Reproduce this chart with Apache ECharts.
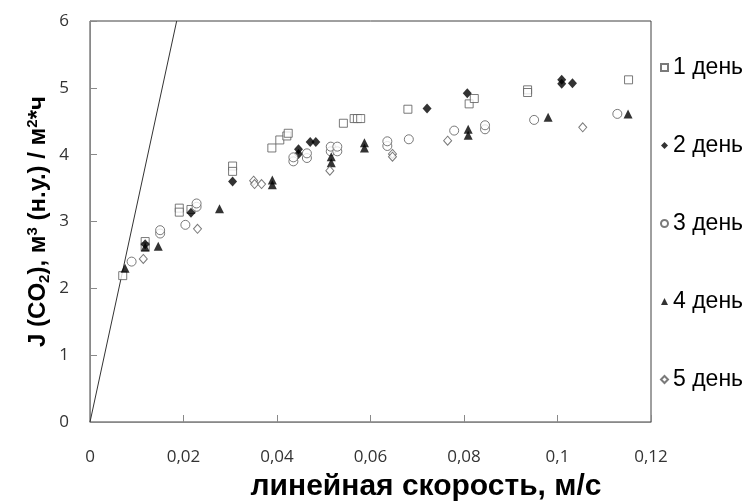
<!DOCTYPE html>
<html>
<head>
<meta charset="utf-8">
<script src="https://cdn.jsdelivr.net/npm/echarts@6/dist/echarts.min.js"></script>
<style>
  html, body { margin: 0; padding: 0; background: #fff; }
  #chart { width: 754px; height: 501px; }
</style>
</head>
<body>
<div id="chart"></div>
<script>
// [скорость, м/с ; J(CO2)]
const day1 = [
  [0.0070, 2.19], [0.0118, 2.70], [0.0118, 2.62], [0.0191, 3.20], [0.0191, 3.14],
  [0.0216, 3.18], [0.0305, 3.83], [0.0305, 3.75], [0.0389, 4.10], [0.0406, 4.22],
  [0.0421, 4.28], [0.0424, 4.32], [0.0542, 4.47], [0.0565, 4.54], [0.0572, 4.54],
  [0.0579, 4.54], [0.0680, 4.68], [0.0811, 4.76], [0.0822, 4.84], [0.0936, 4.97],
  [0.0936, 4.93], [0.1152, 5.12]
];
const day2 = [
  [0.0118, 2.66], [0.0216, 3.13], [0.0305, 3.60], [0.0446, 4.08], [0.0446, 4.01],
  [0.0471, 4.19], [0.0483, 4.19], [0.0721, 4.69], [0.0807, 4.92], [0.1009, 5.12],
  [0.1009, 5.06], [0.1032, 5.07]
];
const day3 = [
  [0.0089, 2.40], [0.0150, 2.82], [0.0150, 2.87], [0.0204, 2.95], [0.0228, 3.22],
  [0.0228, 3.27], [0.0435, 3.90], [0.0435, 3.96], [0.0464, 3.95], [0.0464, 4.02],
  [0.0515, 4.05], [0.0515, 4.12], [0.0529, 4.05], [0.0529, 4.12], [0.0636, 4.13],
  [0.0636, 4.20], [0.0682, 4.23], [0.0779, 4.36], [0.0845, 4.38], [0.0845, 4.44],
  [0.0950, 4.52], [0.1128, 4.61]
];
const day4 = [
  [0.0075, 2.30], [0.0118, 2.62], [0.0146, 2.63], [0.0277, 3.19], [0.0390, 3.62],
  [0.0390, 3.55], [0.0516, 3.97], [0.0516, 3.88], [0.0587, 4.18], [0.0587, 4.10],
  [0.0809, 4.38], [0.0809, 4.29], [0.0980, 4.56], [0.1151, 4.61]
];
const day5 = [
  [0.0114, 2.44], [0.0230, 2.89], [0.0350, 3.61], [0.0352, 3.56], [0.0367, 3.56],
  [0.0513, 3.76], [0.0647, 4.01], [0.0647, 3.97], [0.0765, 4.21], [0.1054, 4.41]
];
// прямая из начала координат
const lineData = [[0, 0], [0.01854, 6]];
const dayNames = ['1 день', '2 день', '3 день', '4 день', '5 день'];

const hollow = { color: '#fff', borderColor: '#595959', borderWidth: 1 };
const filled = { color: '#000' };
const boldFont = { fontFamily: 'Liberation Sans', fontWeight: 'bold', color: '#000' };

const chart = echarts.init(document.getElementById('chart'));

chart.setOption({
  animation: false,
  grid: {
    left: 90, right: 103, top: 21, bottom: 79,
    show: true, borderColor: '#404040', borderWidth: 1
  },
  legend: {
    orient: 'vertical',
    left: 655,
    top: 51,
    itemGap: 55,
    itemWidth: 7,
    itemHeight: 7,
    data: dayNames,
    textStyle: { fontFamily: 'Liberation Sans', fontSize: 23, color: '#000' }
  },
  xAxis: {
    type: 'value',
    min: 0, max: 0.12, interval: 0.02,
    axisLine: { lineStyle: { color: '#898989' } },
    axisTick: { inside: true, length: 7, lineStyle: { color: '#898989' } },
    splitLine: { show: false },
    axisLabel: {
      margin: 27,
      fontFamily: 'Open Sans', fontSize: 17, color: '#333',
      formatter: v => String(+v.toFixed(2)).replace('.', ',')
    }
  },
  yAxis: {
    type: 'value',
    min: 0, max: 6, interval: 1,
    axisLine: { show: true, lineStyle: { color: '#898989' } },
    axisTick: { show: true, inside: true, length: 7, lineStyle: { color: '#898989' } },
    splitLine: { show: false },
    axisLabel: { margin: 21, fontFamily: 'Open Sans', fontSize: 17, color: '#333' },
    name: '{b|J (CO}{sub|2}{b|), м}{sup|3}{b| (н.у.) / м}{sup|2}{b|*ч}',
    nameLocation: 'middle',
    nameGap: 36,
    nameMoveOverlap: false,
    nameRotate: 90,
    nameTextStyle: {
      rich: {
        b: Object.assign({ fontSize: 24, lineHeight: 32 }, boldFont),
        sub: Object.assign({ fontSize: 15, lineHeight: 32, verticalAlign: 'bottom', padding: [0, 0, 2, 0] }, boldFont),
        sup: Object.assign({ fontSize: 15, lineHeight: 32, verticalAlign: 'top', padding: [3, 0, 0, 0] }, boldFont)
      }
    }
  },
  graphic: [{
    type: 'text',
    x: 426, y: 487,
    style: {
      text: 'линейная скорость, м/с',
      fontFamily: 'Liberation Sans', fontWeight: 'bold', fontSize: 30,
      fill: '#000', align: 'center', verticalAlign: 'middle'
    }
  }],
  series: [
    { name: '1 день', type: 'scatter', data: day1, symbol: 'rect', symbolSize: 8, itemStyle: hollow },
    { name: '2 день', type: 'scatter', data: day2, symbol: 'diamond', symbolSize: [9, 10], itemStyle: filled },
    { name: '3 день', type: 'scatter', data: day3, symbol: 'circle', symbolSize: 9, itemStyle: hollow },
    { name: '4 день', type: 'scatter', data: day4, symbol: 'triangle', symbolSize: [9, 9], itemStyle: filled },
    { name: '5 день', type: 'scatter', data: day5, symbol: 'diamond', symbolSize: [8, 9], itemStyle: hollow },
    {
      name: 'line', type: 'line', data: lineData, symbol: 'none',
      lineStyle: { color: '#333', width: 1 }, z: 1
    }
  ]
});
</script>
</body>
</html>
